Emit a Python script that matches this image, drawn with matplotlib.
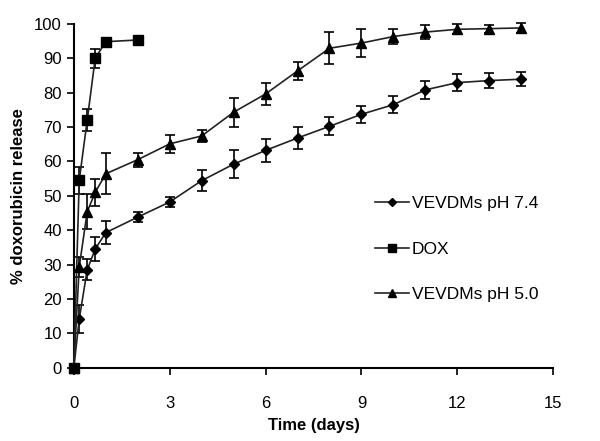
import matplotlib
matplotlib.use("Agg")
import matplotlib.pyplot as plt
from matplotlib.lines import Line2D

plt.rcParams['font.family'] = ['Liberation Sans', 'DejaVu Sans']

# Data
t_dox = [0, 0.17, 0.42, 0.67, 1, 2]
dox = [0, 54.5, 72, 90, 94.8, 95.3]
dox_err = [0, 4, 3.2, 2.8, 1, 1]

t_ves = [0, 0.17, 0.42, 0.67, 1, 2, 3, 4, 5, 6, 7, 8, 9, 10, 11, 12, 13, 14]
ph74 = [0, 14.2, 28.5, 34.5, 39.3, 43.8, 48.2, 54.4, 59.2, 63.2, 66.8, 70.2, 73.7, 76.5, 80.8, 82.9, 83.5, 83.9]
ph74_err = [0, 4, 3, 3.5, 3.3, 1.5, 1.5, 3, 4, 3.3, 3.3, 2.6, 2.4, 2.4, 2.6, 2.5, 2.3, 2]
ph50 = [0, 29.3, 45.4, 51, 56.4, 60.5, 65.1, 67.4, 74.3, 79.6, 86.3, 92.9, 94.4, 96.3, 97.6, 98.4, 98.6, 98.8]
ph50_err = [0, 3, 5, 4, 6, 2, 2.6, 1.7, 4.2, 3.3, 2.7, 4.6, 4, 2.2, 2, 1.5, 1.2, 1.5]

labels = ['VEVDMs pH 7.4', 'DOX', 'VEVDMs pH 5.0']
xticks = [0, 3, 6, 9, 12, 15]
yticks = list(range(0, 101, 10))

fig = plt.figure(figsize=(6, 4.41), dpi=100)
ax = fig.add_axes([0.123, 0.166, 0.799, 0.78])

common = dict(color='#222222', lw=1.2, ecolor='black', elinewidth=1.2, capsize=3.5,
              capthick=1.2, mfc='black', mec='black', clip_on=False, zorder=3)
specs = [(t_ves, ph74, ph74_err, 'D', 5.5),
         (t_dox, dox, dox_err, 's', 7),
         (t_ves, ph50, ph50_err, '^', 6.5)]
handles = []
for (x, y, e, m, ms), lab in zip(specs, labels):
    ax.errorbar(x, y, yerr=e, marker=m, ms=ms, **common)
    handles.append(Line2D([], [], color='#222222', lw=1.2, marker=m,
                          ms=ms * 0.8, mfc='black', mec='black', label=lab))

ax.set_xlim(0, 15)
ax.set_ylim(0, 100)
ax.set_xticks(xticks)
ax.set_yticks(yticks)
ax.spines['top'].set_visible(False)
ax.spines['right'].set_visible(False)
for s in ('left', 'bottom'):
    ax.spines[s].set_linewidth(1.5)
ax.tick_params(direction='out', length=5, width=1.2, labelsize=12, colors='black')
ax.tick_params(axis='x', pad=15)
ax.set_xlabel('Time (days)', fontsize=12, fontweight='bold', labelpad=5)
ax.set_ylabel('% doxorubicin release', fontsize=12, fontweight='bold', labelpad=6)

ax.legend(handles=handles, loc='upper left', bbox_to_anchor=(0.595, 0.545), frameon=False,
          fontsize=12.5, handlelength=2.0, handletextpad=0.15, labelspacing=1.75)

fig.savefig('out.png', dpi=100)
